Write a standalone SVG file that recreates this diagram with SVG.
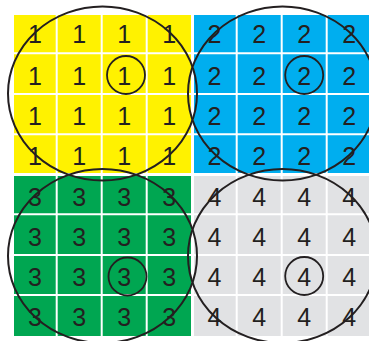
<svg xmlns="http://www.w3.org/2000/svg" width="369" height="341" viewBox="0 0 369 341">
<style>
.d{font-family:"Liberation Sans",Arial,sans-serif;font-size:25px;fill:#231f20;text-anchor:middle}
.g{stroke:#fff;stroke-width:2}
.c{fill:none;stroke:#231f20;stroke-width:2}
.s{fill:none;stroke:#231f20;stroke-width:1.8}
</style>
<rect width="369" height="341" fill="#fff"/>
<g id="q1">
<rect x="14" y="15" width="177" height="158" fill="#fff200"/>
<g class="g"><line x1="56.7" y1="15" x2="56.7" y2="173"/><line x1="101.7" y1="15" x2="101.7" y2="173"/><line x1="146.7" y1="15" x2="146.7" y2="173"/>
<line x1="14" y1="53.3" x2="191" y2="53.3"/><line x1="14" y1="94" x2="191" y2="94"/><line x1="14" y1="134.3" x2="191" y2="134.3"/></g>
<g class="d">
<text x="35" y="43.3">1</text><text x="79.2" y="43.3">1</text><text x="124.2" y="43.3">1</text><text x="169.3" y="43.3">1</text>
<text x="35" y="84.8">1</text><text x="79.2" y="84.8">1</text><text x="124.2" y="84.8">1</text><text x="169.3" y="84.8">1</text>
<text x="35" y="124.8">1</text><text x="79.2" y="124.8">1</text><text x="124.2" y="124.8">1</text><text x="169.3" y="124.8">1</text>
<text x="35" y="164.8">1</text><text x="79.2" y="164.8">1</text><text x="124.2" y="164.8">1</text><text x="169.3" y="164.8">1</text>
</g>
</g>
<g id="q2">
<rect x="194" y="15" width="175" height="158" fill="#00aeef"/>
<g class="g"><line x1="236.7" y1="15" x2="236.7" y2="173"/><line x1="281.7" y1="15" x2="281.7" y2="173"/><line x1="326.7" y1="15" x2="326.7" y2="173"/>
<line x1="194" y1="53.3" x2="369" y2="53.3"/><line x1="194" y1="94" x2="369" y2="94"/><line x1="194" y1="134.3" x2="369" y2="134.3"/></g>
<g class="d">
<text x="214.5" y="43.3">2</text><text x="259.2" y="43.3">2</text><text x="304.2" y="43.3">2</text><text x="349.3" y="43.3">2</text>
<text x="214.5" y="84.8">2</text><text x="259.2" y="84.8">2</text><text x="304.2" y="84.8">2</text><text x="349.3" y="84.8">2</text>
<text x="214.5" y="124.8">2</text><text x="259.2" y="124.8">2</text><text x="304.2" y="124.8">2</text><text x="349.3" y="124.8">2</text>
<text x="214.5" y="164.8">2</text><text x="259.2" y="164.8">2</text><text x="304.2" y="164.8">2</text><text x="349.3" y="164.8">2</text>
</g>
</g>
<g id="q3">
<rect x="14" y="176" width="177" height="160" fill="#00a651"/>
<g class="g"><line x1="56.7" y1="176" x2="56.7" y2="336"/><line x1="101.7" y1="176" x2="101.7" y2="336"/><line x1="146.7" y1="176" x2="146.7" y2="336"/>
<line x1="14" y1="214.3" x2="191" y2="214.3"/><line x1="14" y1="255" x2="191" y2="255"/><line x1="14" y1="295" x2="191" y2="295"/></g>
<g class="d">
<text x="35" y="206">3</text><text x="79.2" y="206">3</text><text x="124.2" y="206">3</text><text x="169.3" y="206">3</text>
<text x="35" y="245.5">3</text><text x="79.2" y="245.5">3</text><text x="124.2" y="245.5">3</text><text x="169.3" y="245.5">3</text>
<text x="35" y="285.5">3</text><text x="79.2" y="285.5">3</text><text x="124.2" y="285.5">3</text><text x="169.3" y="285.5">3</text>
<text x="35" y="325.5">3</text><text x="79.2" y="325.5">3</text><text x="124.2" y="325.5">3</text><text x="169.3" y="325.5">3</text>
</g>
</g>
<g id="q4">
<rect x="194" y="176" width="175" height="160" fill="#e1e2e4"/>
<g class="g"><line x1="236.7" y1="176" x2="236.7" y2="336"/><line x1="281.7" y1="176" x2="281.7" y2="336"/><line x1="326.7" y1="176" x2="326.7" y2="336"/>
<line x1="194" y1="214.3" x2="369" y2="214.3"/><line x1="194" y1="255" x2="369" y2="255"/><line x1="194" y1="295" x2="369" y2="295"/></g>
<g class="d">
<text x="214.5" y="206">4</text><text x="259.2" y="206">4</text><text x="304.2" y="206">4</text><text x="349.3" y="206">4</text>
<text x="214.5" y="245.5">4</text><text x="259.2" y="245.5">4</text><text x="304.2" y="245.5">4</text><text x="349.3" y="245.5">4</text>
<text x="214.5" y="285.5">4</text><text x="259.2" y="285.5">4</text><text x="304.2" y="285.5">4</text><text x="349.3" y="285.5">4</text>
<text x="214.5" y="325.5">4</text><text x="259.2" y="325.5">4</text><text x="304.2" y="325.5">4</text><text x="349.3" y="325.5">4</text>
</g>
</g>
<g id="circles">
<ellipse class="c" cx="102.5" cy="93.5" rx="94.5" ry="87"/>
<ellipse class="c" cx="282.5" cy="93.5" rx="94.5" ry="87"/>
<ellipse class="c" cx="102.5" cy="256" rx="94.5" ry="87"/>
<ellipse class="c" cx="282.5" cy="256" rx="94.5" ry="87"/>
<circle class="s" cx="126" cy="75" r="19"/>
<circle class="s" cx="304.2" cy="75" r="19"/>
<circle class="s" cx="127.5" cy="276.5" r="19"/>
<circle class="s" cx="304.2" cy="276" r="19"/>
</g>
</svg>
